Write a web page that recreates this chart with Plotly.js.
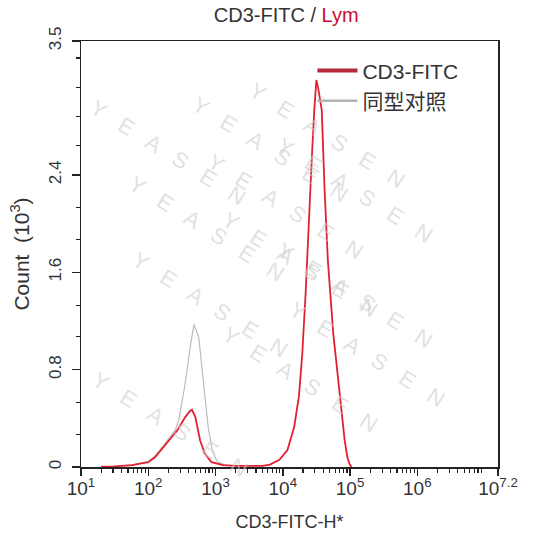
<!DOCTYPE html>
<html>
<head>
<meta charset="utf-8">
<script src="https://cdn.plot.ly/plotly-3.0.1.min.js"></script>
<style>html,body{margin:0;padding:0;background:#fff;}#chart{width:537px;height:550px;}</style>
</head>
<body>
<div id="chart"></div>
<script>
// Log10 of fluorescence intensity and counts (x10^3)
const cd3LogX = [1.3, 1.5, 1.76, 2.0, 2.1, 2.19, 2.34, 2.43, 2.55, 2.62, 2.65, 2.70, 2.77, 2.84, 2.94, 3.11, 3.3, 3.5, 3.7, 3.81, 3.95, 4.07, 4.17, 4.24, 4.29, 4.34, 4.38, 4.43, 4.47, 4.50, 4.53, 4.58, 4.62, 4.67, 4.75, 4.82, 4.88, 4.92, 4.96, 4.99, 5.02];
const cd3Count = [0.003, 0.005, 0.016, 0.04, 0.08, 0.14, 0.24, 0.30, 0.41, 0.46, 0.47, 0.41, 0.22, 0.11, 0.04, 0.016, 0.01, 0.008, 0.01, 0.02, 0.06, 0.14, 0.33, 0.58, 0.93, 1.43, 1.98, 2.52, 2.95, 3.18, 3.10, 2.93, 2.30, 1.70, 1.10, 0.74, 0.47, 0.22, 0.08, 0.03, 0.0];
const isoLogX = [1.3, 1.5, 1.76, 2.0, 2.1, 2.19, 2.34, 2.40, 2.46, 2.51, 2.55, 2.63, 2.68, 2.75, 2.82, 2.89, 2.95, 3.03, 3.15, 3.4];
const isoCount = [0.003, 0.006, 0.018, 0.045, 0.09, 0.15, 0.26, 0.30, 0.40, 0.55, 0.69, 1.01, 1.17, 1.07, 0.69, 0.33, 0.14, 0.04, 0.016, 0.005];
const xTickExp = [1, 2, 3, 4, 5, 6, 7.2];
const xTickText = ['10<sup>1</sup>', '10<sup>2</sup>', '10<sup>3</sup>', '10<sup>4</sup>', '10<sup>5</sup>', '10<sup>6</sup>', '10<sup>7.2</sup>'];
const yTickVals = [0, 0.8, 1.6, 2.4, 3.5];
const yTickText = ['0', '0.8', '1.6', '2.4', '3.5'];
const yMinorVals = [0.27, 0.53, 1.07, 1.33, 1.87, 2.13, 2.64, 2.88, 3.12, 3.36];
const seriesNames = ['CD3-FITC', '同型对照'];
const watermark = 'Y   E   A   S   E   N';
const wmPos = [[83,92],[270,89],[412,75],[285,207],[440,190],[122,228],[300,325],[440,295],[452,415],[125,365],[300,440],[85,485]];

const pow = a => a.map(e => Math.pow(10, e));
const xMinorVals = [];
for (let d = 1; d <= 7; d++) for (let m = 2; m <= 9; m++) {
  const v = m * Math.pow(10, d);
  if (v < Math.pow(10, 7.2)) xMinorVals.push(v);
}
const xAllTicks = pow(xTickExp).concat(xMinorVals);
const yAllTicks = yTickVals.concat(yMinorVals);
const fontMain = 'Liberation Sans, Arial, sans-serif';

const traces = [
  {x: pow(isoLogX), y: isoCount, type: 'scatter', mode: 'lines', line: {color: '#bcbcbc', width: 1.2}, showlegend: false, hoverinfo: 'skip'},
  {x: pow(cd3LogX), y: cd3Count, type: 'scatter', mode: 'lines', xaxis: 'x2', yaxis: 'y2', line: {color: '#e3202f', width: 1.8}, showlegend: false, hoverinfo: 'skip'},
  {x: [null], y: [null], type: 'scatter', mode: 'lines', name: seriesNames[0], line: {color: '#b5273a', width: 4}},
  {x: [null], y: [null], type: 'scatter', mode: 'lines', name: seriesNames[1], line: {color: '#b4b4b4', width: 2.5}}
];

const L = 81, R = 39, T = 41, B = 83, W = 537, H = 550;
const annotations = wmPos.map(p => ({
  xref: 'paper', yref: 'paper',
  x: (p[0] - L) / (W - L - R), y: (H - B - p[1]) / (H - T - B),
  text: watermark, showarrow: false, textangle: 32,
  font: {family: fontMain, size: 22, color: 'rgba(205,205,205,0.6)'}
}));

const layout = {
  width: W, height: H,
  margin: {l: L, r: R, t: T, b: B},
  paper_bgcolor: '#fff', plot_bgcolor: 'rgba(0,0,0,0)',
  font: {family: fontMain, color: '#333'},
  title: {
    text: 'CD3-FITC / <span style="color:#c8102e">Lym</span>',
    x: 0.533, xanchor: 'center', y: 0.972, yanchor: 'middle',
    font: {family: fontMain, size: 20, color: '#333'}
  },
  xaxis: {
    type: 'log', range: [1, 7.2], domain: [0, 1], anchor: 'y',
    tickmode: 'array', tickvals: xAllTicks,
    ticktext: xTickText.concat(xMinorVals.map(() => '')),
    ticks: 'outside', ticklen: 4, tickwidth: 1.2, tickcolor: '#222',
    showline: true, linecolor: '#222', linewidth: 1.5, mirror: true,
    showgrid: false, zeroline: false,
    tickfont: {family: fontMain, size: 19, color: '#333'},
    title: {text: 'CD3-FITC-H*', font: {family: fontMain, size: 18, color: '#333'}, standoff: 17}
  },
  xaxis2: {
    type: 'log', range: [1, 7.2], domain: [0, 1], anchor: 'y2', side: 'bottom',
    tickmode: 'array', tickvals: pow(xTickExp), ticktext: xTickExp.map(() => ''),
    showticklabels: true, tickfont: {size: 1},
    ticks: 'outside', ticklen: 8, tickwidth: 1.5, tickcolor: '#222',
    showline: false, showgrid: false, zeroline: false
  },
  yaxis: {
    range: [0, 3.5], domain: [0, 1], anchor: 'x',
    tickmode: 'array', tickvals: yAllTicks,
    ticktext: yTickText.concat(yMinorVals.map(() => '')),
    ticks: 'outside', ticklen: 4, tickwidth: 1.2, tickcolor: '#222',
    tickangle: -90, ticklabelstandoff: 8,
    showline: true, linecolor: '#222', linewidth: 1.5, mirror: true,
    showgrid: false, zeroline: false,
    tickfont: {family: fontMain, size: 17, color: '#333'},
    title: {text: 'Count  (10<sup>3</sup>)', font: {family: fontMain, size: 21, color: '#333'}, standoff: 10}
  },
  yaxis2: {
    range: [0, 3.5], domain: [0, 1], anchor: 'x2', side: 'left',
    tickmode: 'array', tickvals: yTickVals, ticktext: yTickVals.map(() => ''),
    showticklabels: true, tickfont: {size: 1},
    ticks: 'outside', ticklen: 8, tickwidth: 1.5, tickcolor: '#222',
    showline: false, showgrid: false, zeroline: false
  },
  legend: {
    x: 0.555, y: 0.978, xanchor: 'left', yanchor: 'top',
    bgcolor: 'rgba(0,0,0,0)', borderwidth: 0,
    font: {family: 'Liberation Sans, Noto Sans CJK SC, sans-serif', size: 21, color: '#333'},
    tracegroupgap: 2, itemwidth: 40
  },
  annotations: annotations
};

Plotly.newPlot('chart', traces, layout, {displayModeBar: false, staticPlot: true});
</script>
</body>
</html>
